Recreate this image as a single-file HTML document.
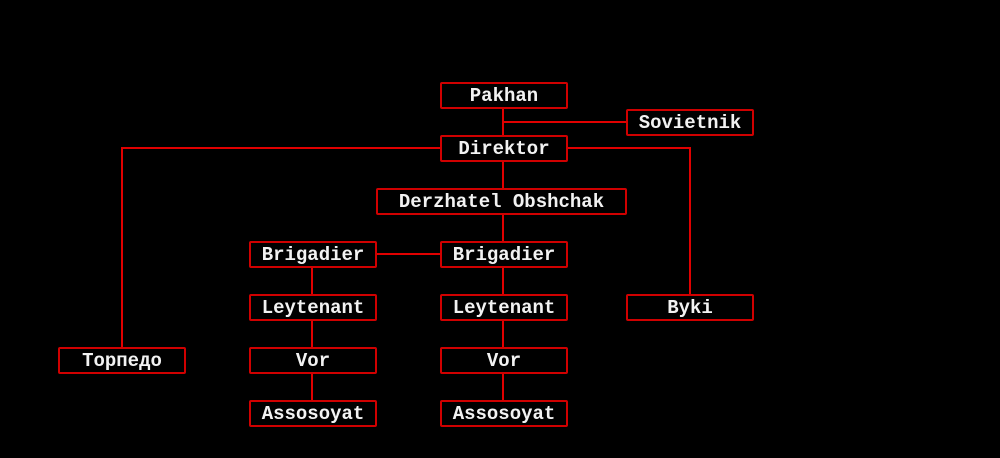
<!DOCTYPE html>
<html><head><style>
body{margin:0;background:#000;width:1000px;height:458px;overflow:hidden;position:relative;font-family:"Liberation Mono","DejaVu Sans Mono",monospace;}
.b{position:absolute;box-sizing:border-box;border:2px solid #d00000;border-radius:2px;color:#f2f2f2;font-weight:bold;font-size:19px;display:flex;align-items:center;justify-content:center;height:27px;background:#000;}
svg{position:absolute;left:0;top:0}
</style></head><body>
<svg width="1000" height="458"><g stroke="#e00000" stroke-width="2" fill="none">
<path d="M503 108V135M503 122H626"/>
<path d="M440 148H122V347"/>
<path d="M567 148H690V294"/>
<path d="M503 161V188M503 214V241M376 254H440"/>
<path d="M312 267V294M312 320V347M312 373V400"/>
<path d="M503 267V294M503 320V347M503 373V400"/>
</g></svg>
<div class="b" style="left:440px;top:82px;width:128px">Pakhan</div>
<div class="b" style="left:626px;top:109px;width:128px">Sovietnik</div>
<div class="b" style="left:440px;top:135px;width:128px">Direktor</div>
<div class="b" style="left:376px;top:188px;width:251px">Derzhatel Obshchak</div>
<div class="b" style="left:249px;top:241px;width:128px">Brigadier</div>
<div class="b" style="left:440px;top:241px;width:128px">Brigadier</div>
<div class="b" style="left:249px;top:294px;width:128px">Leytenant</div>
<div class="b" style="left:440px;top:294px;width:128px">Leytenant</div>
<div class="b" style="left:626px;top:294px;width:128px">Byki</div>
<div class="b" style="left:58px;top:347px;width:128px">Торпедо</div>
<div class="b" style="left:249px;top:347px;width:128px">Vor</div>
<div class="b" style="left:440px;top:347px;width:128px">Vor</div>
<div class="b" style="left:249px;top:400px;width:128px">Assosoyat</div>
<div class="b" style="left:440px;top:400px;width:128px">Assosoyat</div>
</body></html>
